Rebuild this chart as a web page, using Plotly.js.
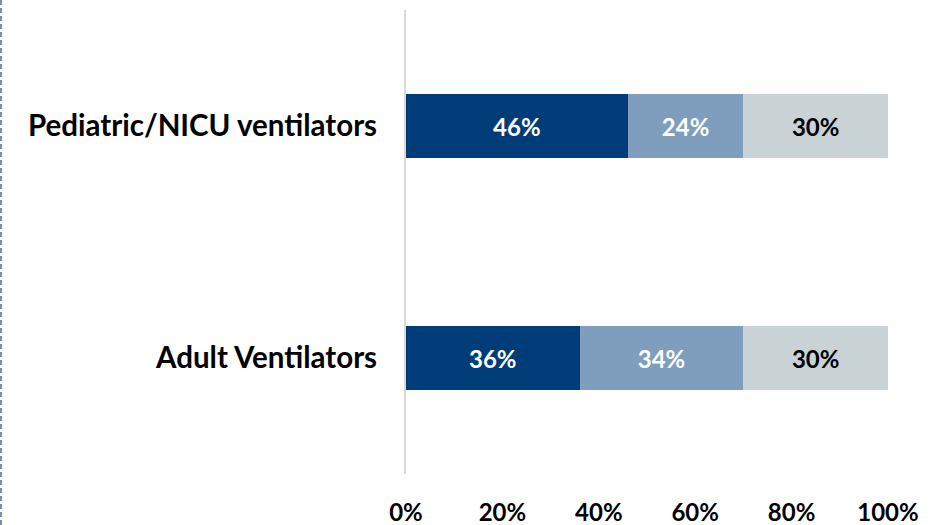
<!DOCTYPE html>
<html>
<head>
<meta charset="utf-8">
<script src="https://cdn.plot.ly/plotly-3.0.1.min.js"></script>
<style>
html,body{margin:0;padding:0;background:#fff;}
#chart{width:948px;height:525px;}
</style>
</head>
<body>
<div id="chart"></div>
<script>
const categories = ["Pediatric/NICU ventilators", "Adult Ventilators"];
const series1 = [46, 36];
const series2 = [24, 34];
const series3 = [30, 30];
const tickVals = [0, 20, 40, 60, 80, 100];
const tickText = ["0%", "20%", "40%", "60%", "80%", "100%"];

const FONT = "Lato, 'Open Sans', sans-serif";
function mk(vals, color, txtColor){
  return {
    type: "bar", orientation: "h", y: categories, x: vals,
    marker: {color: color, line: {width: 0}},
    width: 0.276,
    text: vals.map(v => v + "%"), textposition: "inside", insidetextanchor: "middle",
    textfont: {family: FONT, size: 24, color: txtColor, weight: "bold"},
    hoverinfo: "skip", showlegend: false
  };
}
const data = [mk(series1, "#003C77", "#FFFFFF"), mk(series2, "#7F9DBD", "#FFFFFF"), mk(series3, "#C9D2D5", "#000000")];
const layout = {
  width: 948, height: 525,
  margin: {l: 406, r: 60, t: 10, b: 51},
  barmode: "stack",
  paper_bgcolor: "#FFFFFF", plot_bgcolor: "#FFFFFF",
  font: {family: FONT, color: "#000000"},
  xaxis: {range: [0, 100], tickvals: tickVals, ticktext: tickText, showgrid: false, zeroline: false,
          showline: false, ticks: "", ticklabelstandoff: 22,
          tickfont: {family: FONT, size: 24, color: "#000000", weight: "bold"}},
  yaxis: {type: "category", categoryorder: "array", categoryarray: categories, autorange: "reversed",
          range: [1.5, -0.5], showgrid: false, zeroline: false, showline: true, linecolor: "#D9D9D9", linewidth: 2,
          ticks: "", ticklabelstandoff: 21,
          tickfont: {family: FONT, size: 29.5, color: "#000000", weight: "bold"}},
  shapes: [{type: "line", xref: "paper", yref: "paper", x0: -405/482, x1: -405/482, y0: -0.11, y1: 1.03,
            line: {color: "#7C8FA0", width: 2, dash: "5px,3px"}}]
};
Plotly.newPlot("chart", data, layout, {displayModeBar: false, staticPlot: true});
</script>
</body>
</html>
